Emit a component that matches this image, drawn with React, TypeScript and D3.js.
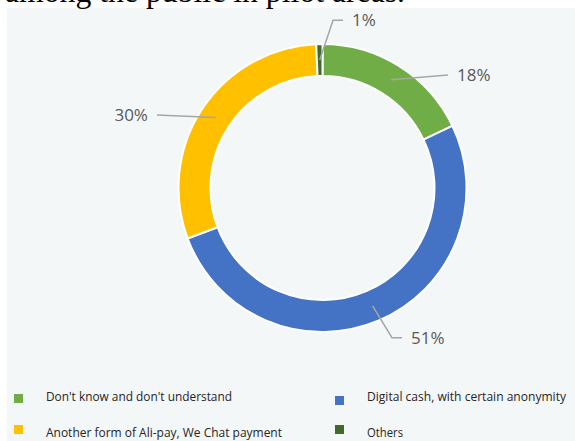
import React from "react";
import * as d3 from "d3";

// ---- data ----
const categories = [
  "Don't know and don't understand",
  "Digital cash, with certain anonymity",
  "Another form of Ali-pay, We Chat payment",
  "Others",
];
const values = [17.9, 51.4, 30.0, 0.7];
const colors = ["#70AD47", "#4472C4", "#FFC000", "#43682B"];
const headingText = "among the public in pilot areas.";

// ---- layout ----
const W = 575;
const H = 441;
const cx = 322.5;
const cy = 188;
const rOuter = 144;
const rInner = 112;
const rMid = (rOuter + rInner) / 2;

// label placement (angle in degrees clockwise from top, radius), elbow flag, side
const labelPlacement = [
  { angle: 48, radius: 169, elbow: false, side: 1 },
  { angle: 155.1, radius: 165, elbow: true, side: 1 },
  { angle: 293.8, radius: 181, elbow: false, side: -1 },
  { angle: 3.6, radius: 168, elbow: true, side: 1 },
];

// legend layout
const legendItems = [
  { sq: [14, 394], tx: [46, 401], len: 186 },
  { sq: [335, 396], tx: [367, 401], len: 199 },
  { sq: [14, 425], tx: [46, 437], len: 236 },
  { sq: [335, 425], tx: [367, 437], len: 36 },
];

const polar = (deg: number, r: number): [number, number] => {
  const a = (deg * Math.PI) / 180;
  return [r * Math.sin(a), -r * Math.cos(a)];
};

export default function App() {
  const pie = d3
    .pie<number>()
    .sort(null)
    .value((d) => d)
    .startAngle(0)
    .endAngle(Math.PI * 2);
  const arcs = pie(values);
  const arc = d3.arc<d3.PieArcDatum<number>>().innerRadius(rInner).outerRadius(rOuter);
  const labelFont = "'Open Sans', 'Noto Sans', sans-serif";

  return (
    <svg
      width={W}
      height={H}
      viewBox={`0 0 ${W} ${H}`}
      style={{ position: "absolute", left: 0, top: 0, display: "block" }}
    >
      <rect x={0} y={0} width={W} height={H} fill="#ffffff" />
      <rect x={7} y={8} width={W - 7} height={H - 8} fill="#F4F7F8" />
      <text
        x={5}
        y={2}
        fontFamily="'Liberation Serif', 'Times New Roman', serif"
        fontSize={31}
        fill="#000"
        textLength={400}
        lengthAdjust="spacingAndGlyphs"
      >
        {headingText}
      </text>

      <g transform={`translate(${cx},${cy})`}>
        {arcs.map((a, i) => (
          <path key={i} d={arc(a) || ""} fill={colors[i]} stroke="#ffffff" strokeWidth={2} />
        ))}
        {arcs.map((a, i) => {
          const midDeg = (((a.startAngle + a.endAngle) / 2) * 180) / Math.PI;
          const [sx, sy] = polar(midDeg, rMid);
          const lp = labelPlacement[i];
          const [ex, ey] = polar(lp.angle, lp.radius);
          const pts: [number, number][] = [[sx, sy], [ex, ey]];
          let tx = ex;
          if (lp.elbow) {
            pts.push([ex + 10 * lp.side, ey]);
            tx = ex + 10 * lp.side;
          }
          const line = d3.line()(pts) || "";
          const pct = Math.round(values[i]) + "%";
          return (
            <g key={"l" + i}>
              <path d={line} fill="none" stroke="#A6A6A6" strokeWidth={1.5} />
              <text
                x={tx + 9 * lp.side}
                y={ey}
                dy="0.36em"
                textAnchor={lp.side > 0 ? "start" : "end"}
                fontFamily={labelFont}
                fontSize={17}
                fill="#595959"
              >
                {pct}
              </text>
            </g>
          );
        })}
      </g>

      <g>
        {legendItems.map((it, i) => (
          <g key={"lg" + i}>
            <rect x={it.sq[0]} y={it.sq[1]} width={9} height={9} fill={colors[i]} />
            <text
              x={it.tx[0]}
              y={it.tx[1]}
              fontFamily={labelFont}
              fontSize={13}
              fill="#262626"
              textLength={it.len}
              lengthAdjust="spacingAndGlyphs"
            >
              {categories[i]}
            </text>
          </g>
        ))}
      </g>
    </svg>
  );
}
